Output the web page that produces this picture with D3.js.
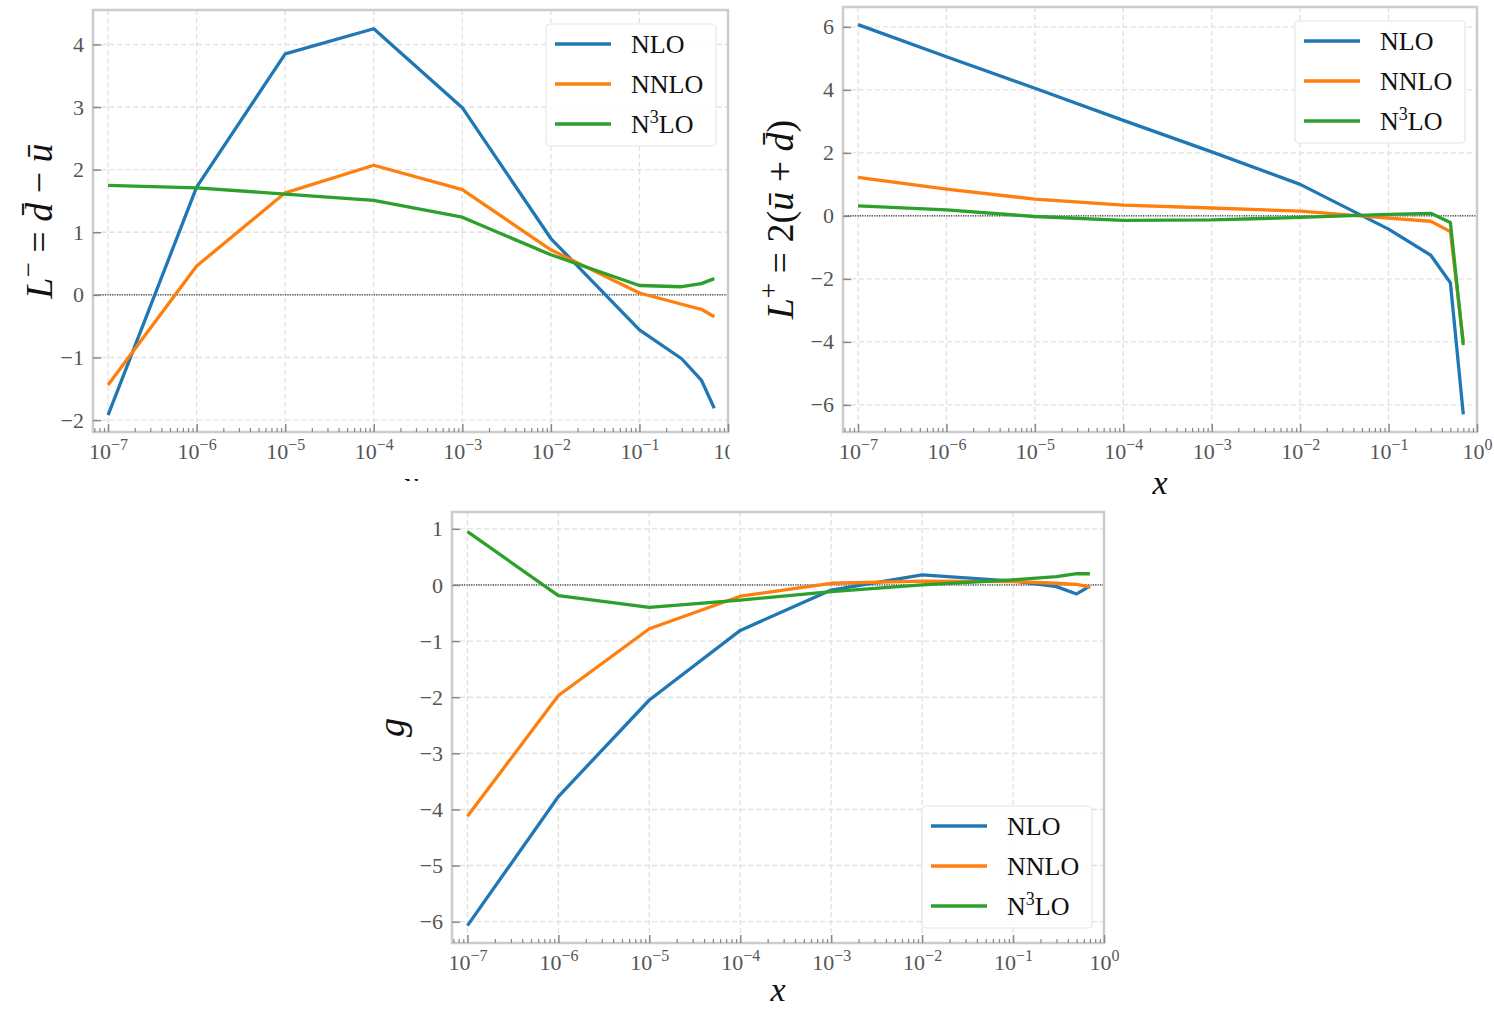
<!DOCTYPE html>
<html>
<head>
<meta charset="utf-8">
<script src="https://cdn.jsdelivr.net/npm/d3@7"></script>
<style>
  body { margin: 0; background: #fff; }
  text { font-family: "Liberation Serif", "DejaVu Serif", serif; }
</style>
</head>
<body>
<svg id="fig" width="1494" height="1009"></svg>
<script>
// x grid shared by all three panels
var xs = [1e-7, 1e-6, 1e-5, 1e-4, 1e-3, 1e-2, 0.1, 0.3, 0.5, 0.7];
var orders = ["NLO", "NNLO", "N3LO"];
var colors = ["#1f77b4", "#ff7f0e", "#2ca02c"];

// L^- = dbar - ubar
var lminusNLO  = [-1.92, 1.72, 3.85, 4.25, 2.99, 0.90, -0.56, -1.02, -1.36, -1.81];
var lminusNNLO = [-1.44, 0.46, 1.63, 2.07, 1.68, 0.72, 0.03, -0.15, -0.23, -0.35];
var lminusN3LO = [1.75, 1.71, 1.61, 1.51, 1.24, 0.64, 0.15, 0.13, 0.18, 0.26];

// L^+ = 2(ubar + dbar)
var lplusNLO  = [6.07, 5.05, 4.05, 3.03, 2.03, 1.00, -0.42, -1.25, -2.12, -6.30];
var lplusNNLO = [1.22, 0.85, 0.53, 0.34, 0.25, 0.15, -0.07, -0.17, -0.50, -4.00];
var lplusN3LO = [0.32, 0.19, -0.02, -0.14, -0.13, -0.05, 0.05, 0.08, -0.21, -4.10];

// gluon
var gNLO  = [-6.07, -3.77, -2.05, -0.81, -0.09, 0.18, 0.07, -0.03, -0.16, -0.02];
var gNNLO = [-4.12, -1.97, -0.78, -0.20, 0.03, 0.07, 0.06, 0.03, 0.01, -0.04];
var gN3LO = [0.95, -0.19, -0.40, -0.27, -0.12, 0.00, 0.09, 0.15, 0.20, 0.20];

var xTicks = [1e-7, 1e-6, 1e-5, 1e-4, 1e-3, 1e-2, 1e-1, 1];
var xTickExp = ["\u22127", "\u22126", "\u22125", "\u22124", "\u22123", "\u22122", "\u22121", "0"];
var yTicksMinus = [-2, -1, 0, 1, 2, 3, 4];
var yTicksPlus = [-6, -4, -2, 0, 2, 4, 6];
var yTicksG = [-6, -5, -4, -3, -2, -1, 0, 1];

var svg = d3.select("#fig");

svg.append("defs").append("clipPath").attr("id", "cropTL")
  .append("rect").attr("x", 0).attr("y", 0).attr("width", 730).attr("height", 481);

var panels = [
  {box: {l: 93, t: 10, r: 728, b: 432}, ydom: [-2.19, 4.55], yticks: yTicksMinus,
   series: [lminusNLO, lminusNNLO, lminusN3LO], ylabel: "minus", ylx: 52, xly: 63, legend: "top", clip: true},
  {box: {l: 843, t: 7, r: 1477, b: 432}, ydom: [-6.86, 6.63], yticks: yTicksPlus,
   series: [lplusNLO, lplusNNLO, lplusN3LO], ylabel: "plus", ylx: 793, xly: 62, legend: "top"},
  {box: {l: 452, t: 512, r: 1104, b: 943}, ydom: [-6.38, 1.30], yticks: yTicksG,
   series: [gNLO, gNNLO, gN3LO], ylabel: "g", ylx: 404, xly: 58, legend: "bottom"}
];

panels.forEach(function (p) {
  var b = p.box;
  var g = svg.append("g");
  if (p.clip) g.attr("clip-path", "url(#cropTL)");

  var x = d3.scaleLog().domain([Math.pow(10, -7.17), 1]).range([b.l, b.r]);
  var y = d3.scaleLinear().domain(p.ydom).range([b.b, b.t]);

  // grid
  g.append("g").selectAll("line").data(xTicks.filter(function (d) { return d < 1; }))
    .enter().append("line")
    .attr("x1", function (d) { return x(d); }).attr("x2", function (d) { return x(d); })
    .attr("y1", b.t).attr("y2", b.b)
    .attr("stroke", "#e2e2e2").attr("stroke-width", 1.4).attr("stroke-dasharray", "5,3");
  g.append("g").selectAll("line").data(p.yticks).enter().append("line")
    .attr("x1", b.l).attr("x2", b.r)
    .attr("y1", function (d) { return y(d); }).attr("y2", function (d) { return y(d); })
    .attr("stroke", "#e2e2e2").attr("stroke-width", 1.4).attr("stroke-dasharray", "5,3");

  // zero reference line
  g.append("line").attr("x1", b.l).attr("x2", b.r).attr("y1", y(0)).attr("y2", y(0))
    .attr("stroke", "#000").attr("stroke-width", 1).attr("stroke-dasharray", "1.2,1.2");

  // curves
  var line = d3.line().x(function (d, i) { return x(xs[i]); }).y(function (d) { return y(d); });
  p.series.forEach(function (s, k) {
    g.append("path").datum(s).attr("d", line)
      .attr("fill", "none").attr("stroke", colors[k]).attr("stroke-width", 3.3)
      .attr("stroke-linejoin", "round");
  });

  // spines
  g.append("rect").attr("x", b.l).attr("y", b.t).attr("width", b.r - b.l).attr("height", b.b - b.t)
    .attr("fill", "none").attr("stroke", "#cccccc").attr("stroke-width", 2.5);

  // x axis: inward ticks, log minors
  var minors = [];
  for (var e = -8; e < 0; e++) for (var m = 2; m <= 9; m++) {
    var v = m * Math.pow(10, e);
    if (v > x.domain()[0] && v < 1) minors.push(v);
  }
  g.append("g").attr("transform", "translate(0," + b.b + ")")
    .call(d3.axisBottom(x).tickValues(minors).tickSize(-4).tickFormat(""))
    .call(function (a) { a.select(".domain").remove(); a.selectAll("line").attr("stroke", "#888").attr("stroke-width", 1.2); });
  var xa = g.append("g").attr("transform", "translate(0," + b.b + ")")
    .call(d3.axisBottom(x).tickValues(xTicks).tickSize(-8).tickPadding(12).tickFormat(""));
  xa.select(".domain").remove();
  xa.selectAll("line").attr("stroke", "#888").attr("stroke-width", 1.5);
  xa.selectAll(".tick text").each(function (d, i) {
    var t = d3.select(this).attr("y", 27).attr("dy", null)
      .attr("fill", "#555").style("font-size", "22px").attr("text-anchor", "middle");
    t.append("tspan").text("10");
    t.append("tspan").attr("dy", -9).style("font-size", "16px").text(xTickExp[i]);
  });

  // y axis
  var ya = g.append("g").attr("transform", "translate(" + b.l + ",0)")
    .call(d3.axisLeft(y).tickValues(p.yticks).tickSize(-8).tickPadding(9)
      .tickFormat(function (d) { return d < 0 ? "\u2212" + Math.abs(d) : d; }));
  ya.select(".domain").remove();
  ya.selectAll("line").attr("stroke", "#888").attr("stroke-width", 1.5);
  ya.selectAll("text").attr("fill", "#555").style("font-size", "22px");

  // axis labels
  g.append("text").attr("x", (b.l + b.r) / 2).attr("y", b.b + p.xly).attr("text-anchor", "middle")
    .style("font-size", "34px").style("font-style", "italic").attr("fill", "#111").text("x");

  var yl = g.append("text").attr("transform", "translate(" + p.ylx + "," + (b.t + b.b) / 2 + ") rotate(-90)")
    .attr("text-anchor", "middle").style("font-size", "38px").attr("fill", "#111");
  if (p.ylabel === "minus") {
    yl.append("tspan").style("font-style", "italic").text("L");
    yl.append("tspan").attr("dy", -15).style("font-size", "27px").text("\u2212");
    yl.append("tspan").attr("dy", 15).text(" = ");
    yl.append("tspan").style("font-style", "italic").text("d\u0304");
    yl.append("tspan").text(" \u2212 ");
    yl.append("tspan").style("font-style", "italic").text("\u016B");
  } else if (p.ylabel === "plus") {
    yl.append("tspan").style("font-style", "italic").text("L");
    yl.append("tspan").attr("dy", -15).style("font-size", "27px").text("+");
    yl.append("tspan").attr("dy", 15).text(" = 2(");
    yl.append("tspan").style("font-style", "italic").text("\u016B");
    yl.append("tspan").text(" + ");
    yl.append("tspan").style("font-style", "italic").text("d\u0304");
    yl.append("tspan").text(")");
  } else {
    yl.style("font-style", "italic").text("g");
  }

  // legend
  var lw = 170, lh = 122;
  var lx = b.r - 12 - lw;
  var ly = p.legend === "top" ? b.t + 14 : b.b - 15 - lh;
  var lg = g.append("g").attr("transform", "translate(" + lx + "," + ly + ")");
  lg.append("rect").attr("width", lw).attr("height", lh).attr("rx", 4)
    .attr("fill", "#fff").attr("fill-opacity", 0.85).attr("stroke", "#e6e6e6").attr("stroke-width", 1.2);
  orders.forEach(function (o, k) {
    var ry = 20 + 40 * k;
    lg.append("line").attr("x1", 9).attr("x2", 65).attr("y1", ry).attr("y2", ry)
      .attr("stroke", colors[k]).attr("stroke-width", 3.3);
    var t = lg.append("text").attr("x", 85).attr("y", ry + 9).style("font-size", "26px").attr("fill", "#111");
    if (o === "N3LO") {
      t.append("tspan").text("N");
      t.append("tspan").attr("dy", -10).style("font-size", "18px").text("3");
      t.append("tspan").attr("dy", 10).text("LO");
    } else {
      t.text(o);
    }
  });
});
</script>
</body>
</html>
